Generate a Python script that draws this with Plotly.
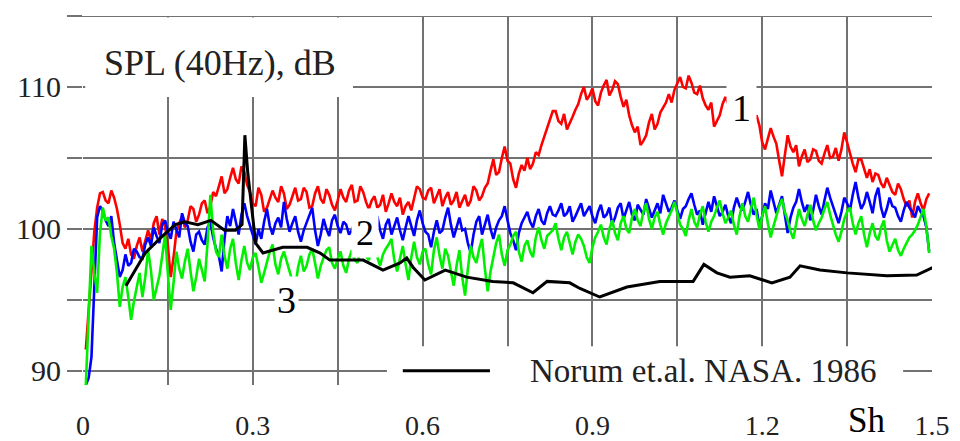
import plotly.graph_objects as go

# ---------------- data ----------------
# noisy series sampled every 0.005 Sh starting at Sh = 0.005
sh_start = 0.005
sh_step = 0.005

spl_1_red = [
    91.5, 94.5, 97.0, 99.8, 101.5, 102.5, 102.6, 102.0, 101.8, 102.7,
    102.2, 101.4, 100.3, 99.0, 98.6, 99.3, 98.2, 97.9, 98.8, 99.4,
    98.4, 99.1, 99.9, 99.2, 100.4, 100.9, 99.6, 100.7, 100.2, 98.8,
    96.6, 98.0, 99.8, 100.4, 100.9, 100.1, 100.6, 101.6, 101.4, 100.5,
    101.0, 101.8, 102.0, 101.1, 101.6, 102.6, 102.3, 103.0, 103.7, 102.5,
    102.8, 103.6, 104.3, 103.5, 103.2, 104.4, 104.0, 103.1, 102.6, 101.8,
    101.6, 102.9, 102.4, 101.2, 101.5, 102.1, 102.7, 102.2, 101.9, 103.0,
    102.5, 101.4, 101.7, 102.3, 102.9, 102.0, 102.1, 102.9, 102.6, 101.5,
    101.6, 102.5, 103.0, 102.1, 101.8, 102.8, 102.4, 101.7, 101.3, 102.0,
    102.8, 102.2, 101.9, 102.7, 103.1, 101.9, 102.0, 103.0, 102.6, 101.9,
    101.4, 102.0, 102.3, 101.5, 101.7, 102.4, 101.2, 101.8, 102.5, 101.9,
    101.6, 102.2, 101.0, 101.6, 101.9, 101.3, 102.2, 103.0, 102.8, 102.2,
    102.1, 102.7, 102.9, 101.8, 102.3, 102.8, 101.6, 102.2, 102.6, 101.7,
    102.0, 102.6, 101.5, 102.0, 102.4, 101.6, 102.0, 103.0, 102.7, 102.0,
    102.3, 102.9, 103.2, 104.1, 104.9, 103.8, 104.0, 105.0, 105.8, 104.8,
    104.6, 103.5, 102.9, 103.9, 104.5, 104.1, 105.0, 104.2, 104.6, 105.4,
    105.2, 105.9, 106.5, 107.1, 107.6, 108.3, 108.3, 107.6, 107.4, 108.1,
    107.0, 107.4, 107.9, 108.4, 108.8, 109.5, 110.0, 109.1, 109.4, 109.9,
    109.0, 108.7, 109.6, 110.1, 110.5, 109.4, 109.8, 110.4, 110.2, 109.3,
    108.6, 109.1, 108.0, 107.3, 106.8, 107.2, 105.9, 106.2, 106.6, 107.5,
    108.1, 107.0, 107.4, 108.2, 108.6, 108.9, 109.5, 108.9, 109.8, 110.3,
    110.7, 110.0, 109.9, 110.8, 110.3, 109.6, 109.5, 110.1, 109.2, 108.7,
    108.4, 108.9, 107.2, 107.6, 108.0, 108.8, 109.3, 108.8, 109.8, 109.4,
    110.2, 109.6, 109.0, 108.5, 108.2, 108.7, 107.6, 108.0, 107.3, 106.1,
    105.6, 106.4, 107.1, 106.5, 106.0, 104.8, 103.7, 105.2, 106.6, 105.8,
    105.4, 105.9, 104.4, 105.1, 105.6, 104.7, 104.9, 105.6, 105.5, 104.8,
    104.6, 105.3, 105.9, 105.0, 105.1, 105.7, 104.8, 105.6, 106.8, 106.1,
    105.3, 104.6, 104.0, 104.9, 104.9, 104.2, 103.6, 104.2, 103.3, 103.9,
    103.8, 103.2, 102.9, 103.6, 103.1, 102.6, 102.4, 103.2, 102.8, 102.1,
    101.6, 102.0, 100.8, 101.9, 102.5, 101.8, 101.3, 102.1, 102.5,
]

spl_2_blue = [
    89.0, 89.5, 91.0, 96.5, 100.8, 101.6, 101.3, 100.6, 100.2, 100.9,
    99.0, 97.8, 96.6, 97.1, 98.2, 97.4, 97.6, 98.6, 98.4, 98.0,
    97.9, 98.9, 99.4, 98.8, 100.1, 99.5, 99.0, 100.3, 100.6, 99.8,
    99.3, 100.5, 99.9, 99.4, 101.1, 100.4, 100.2, 99.1, 98.4, 99.6,
    99.8, 99.2, 98.9, 100.1, 100.5, 99.4, 98.6, 98.1, 97.0, 99.3,
    100.9, 100.2, 101.4, 100.6, 99.6, 101.0, 101.8, 100.9, 100.2, 99.5,
    98.9, 100.0, 99.3, 100.5, 101.4, 100.2, 99.6, 100.4, 100.8, 100.1,
    101.9, 100.7, 99.8, 100.4, 100.9, 99.8, 99.1, 99.9, 100.4, 101.0,
    101.5, 99.9, 98.8, 99.6, 100.7, 100.0, 99.5, 100.6, 101.0, 100.2,
    99.7, 100.5, 100.3, 99.6, 99.9, 100.5, 100.1, 99.7, 100.2, 100.7,
    99.8, 99.4, 100.4, 100.9, 99.9, 99.3, 100.3, 100.7, 99.6, 100.2,
    100.8, 99.9, 99.2, 100.1, 100.9, 100.2, 99.5, 100.6, 101.3, 100.4,
    99.8, 99.6, 98.7, 99.8, 100.6, 99.7, 99.9, 100.8, 101.5, 100.3,
    99.4, 100.1, 100.8, 99.9, 100.0, 99.0, 98.3, 99.6, 100.5, 100.9,
    99.6, 100.3, 101.0, 100.0, 99.3, 100.1, 100.6, 100.9, 101.6, 100.6,
    99.7, 99.2, 98.5, 99.7, 100.4, 100.8, 101.2, 100.5, 100.1, 100.9,
    101.4, 100.6, 100.3, 101.1, 101.6, 101.0, 100.9, 101.3, 101.8, 100.9,
    101.1, 101.6, 100.5, 100.9, 101.4, 101.8, 100.9, 101.3, 101.6, 100.9,
    100.4, 101.2, 101.7, 100.8, 101.0, 101.5, 100.3, 100.8, 101.5, 101.8,
    100.7, 101.3, 101.9, 101.0, 100.6, 101.7, 101.3, 101.0, 102.1, 101.4,
    100.8, 101.3, 101.8, 101.1, 102.4, 101.8, 101.2, 101.5, 102.0, 101.3,
    100.7, 101.4, 101.6, 102.1, 102.5, 101.7, 101.0, 101.3, 100.3, 101.1,
    101.9, 101.2, 102.3, 101.6, 100.9, 101.2, 101.7, 100.9, 100.4, 101.5,
    102.2, 101.6, 101.3, 101.9, 102.6, 101.7, 101.0, 101.4, 100.2, 100.9,
    101.8, 101.4, 102.7, 101.9, 101.1, 101.7, 102.3, 101.0, 99.7, 100.8,
    101.5, 101.9, 102.8, 101.9, 101.2, 101.7, 100.6, 101.3, 102.4, 101.6,
    101.0, 102.0, 102.9, 102.2, 101.6, 101.0, 100.4, 101.2, 102.2, 101.8,
    101.3, 102.4, 103.3, 102.2, 101.4, 101.8, 102.6, 101.9, 101.1, 102.3,
    102.9, 101.5, 100.8, 101.4, 102.2, 101.6, 101.5, 100.9, 100.5, 101.3,
    101.9, 101.5, 101.2, 100.8, 101.6, 101.2, 100.9, 100.1, 98.4,
]

spl_3_green = [
    89.0, 93.5, 98.8, 96.9, 95.5, 99.7, 101.5, 100.6, 100.8, 99.5,
    98.6, 96.9, 94.5, 95.9, 96.6, 95.2, 93.6, 94.9, 95.8, 96.9,
    95.2, 96.6, 98.5, 97.1, 95.0, 95.8, 96.7, 98.1, 99.6, 96.8,
    94.3, 96.2, 98.4, 97.2, 96.5, 97.7, 98.6, 97.0, 95.6, 96.6,
    97.9, 97.1, 96.3, 99.0, 102.4, 99.8, 98.4, 98.0, 99.6, 98.1,
    97.2, 98.6, 99.3, 97.6, 96.4, 97.8, 98.8, 97.6, 97.1, 98.0,
    98.3, 97.3, 96.2, 96.9, 97.6, 98.4, 98.9, 97.5, 96.8, 97.9,
    98.4, 97.6, 97.0, 96.3, 95.9, 97.3, 98.1, 97.0, 97.4, 98.2,
    98.6, 97.6, 96.5, 97.4, 97.9, 98.5, 98.7, 97.6, 97.2, 97.9,
    98.4, 97.4, 96.9, 97.9, 98.5, 97.8, 97.6, 98.5, 98.9, 98.1,
    97.8, 98.7, 99.0, 98.0, 97.4, 98.2, 98.6, 98.9, 99.3, 97.8,
    97.0, 97.9, 98.8, 97.5, 96.4, 98.0, 99.1, 98.0, 97.5, 98.4,
    98.6, 97.5, 96.8, 98.5, 99.4, 98.1, 97.2, 98.6, 98.1, 97.0,
    96.0, 97.4, 98.5, 96.6, 95.3, 97.2, 98.8, 98.0, 97.6, 98.6,
    99.3, 97.2, 95.6, 97.0, 98.1, 99.0, 99.6, 98.2, 97.4, 98.5,
    98.9, 99.5, 99.8, 98.4, 97.7, 98.8, 99.2, 98.4, 98.0, 99.4,
    100.1, 99.2, 98.6, 99.5, 99.7, 99.9, 100.4, 99.3, 98.5, 99.4,
    99.8, 98.9, 98.2, 99.1, 99.6, 99.3, 98.8, 98.0, 97.6, 98.7,
    99.4, 99.8, 100.3, 99.4, 98.9, 100.0, 100.6, 99.7, 99.2, 100.4,
    100.9, 100.0, 99.7, 100.8, 101.4, 100.6, 100.2, 101.2, 101.8, 100.7,
    100.0, 100.8, 101.2, 100.3, 99.6, 100.4, 100.8, 101.3, 101.9, 101.0,
    100.3, 100.0, 99.5, 100.6, 101.4, 100.5, 100.1, 101.0, 101.6, 100.5,
    99.8, 100.5, 100.9, 101.5, 102.0, 101.1, 100.4, 100.8, 101.3, 100.3,
    99.6, 100.9, 101.8, 100.9, 100.5, 101.4, 102.2, 101.0, 100.0, 100.9,
    101.6, 100.4, 99.4, 100.2, 100.9, 101.6, 102.1, 101.2, 100.6, 99.8,
    99.3, 100.5, 101.4, 100.7, 100.2, 101.0, 101.7, 100.6, 99.9, 100.4,
    100.8, 101.4, 101.9, 101.0, 100.3, 99.6, 99.1, 99.8, 100.7, 101.2,
    101.5, 100.4, 99.6, 100.4, 100.9, 99.6, 98.7, 99.7, 100.4, 99.5,
    99.2, 100.1, 100.6, 99.2, 98.4, 98.9, 99.3, 98.5, 98.1, 98.6,
    99.0, 99.4, 99.6, 99.9, 100.3, 100.9, 101.4, 100.2, 98.3,
]

norum_sh = [
    0.076, 0.110, 0.138, 0.163, 0.180, 0.203, 0.226, 0.250, 0.269, 0.281,
    0.286, 0.291, 0.305, 0.318, 0.353, 0.396, 0.419, 0.436, 0.495, 0.530,
    0.560, 0.572, 0.583, 0.604, 0.640, 0.678, 0.724, 0.760, 0.795, 0.820,
    0.860, 0.878, 0.913, 0.961, 1.019, 1.078, 1.097, 1.120, 1.143, 1.178,
    1.217, 1.249, 1.267, 1.302, 1.350, 1.420, 1.473, 1.500, 1.523,
]
norum_spl = [
    96.0, 98.3, 99.4, 100.3, 100.5, 100.3, 100.6, 99.9, 99.9, 100.3,
    106.6, 104.0, 99.0, 98.3, 98.7, 98.7, 98.3, 97.8, 97.8, 97.1,
    97.6, 97.95, 97.3, 96.4, 97.1, 96.6, 96.3, 96.2, 95.5, 96.3,
    96.2, 95.8, 95.2, 95.9, 96.3, 96.3, 97.5, 96.9, 96.6, 96.7,
    96.2, 96.6, 97.4, 97.1, 96.9, 96.7, 96.75, 97.25, 96.5,
]

x_tickvals = [0, 0.15, 0.3, 0.45, 0.6, 0.75, 0.9, 1.05, 1.2, 1.35, 1.5]
x_ticktext = ["0", "", "0.3", "", "0.6", "", "0.9", "", "1.2", "", "1.5"]
y_tickvals = [90, 95, 100, 105, 110, 115]
y_ticktext = ["90", "", "100", "", "110", ""]

# ---------------- figure ----------------
SERIF = "Liberation Serif, Times New Roman, serif"
GRID = "#727272"

fig = go.Figure()
fig.add_trace(go.Scatter(x0=sh_start, dx=sh_step, y=spl_1_red, mode="lines",
                         line=dict(color="#ff0000", width=2.6), showlegend=False))
fig.add_trace(go.Scatter(x0=sh_start, dx=sh_step, y=spl_2_blue, mode="lines",
                         line=dict(color="#0000ff", width=2.6), showlegend=False))
fig.add_trace(go.Scatter(x0=sh_start, dx=sh_step, y=spl_3_green, mode="lines",
                         line=dict(color="#00f000", width=2.6), showlegend=False))
fig.add_trace(go.Scatter(x=norum_sh, y=norum_spl, mode="lines",
                         line=dict(color="#000000", width=3), showlegend=False))

# white boxes that interrupt the grid (label box and legend box)
fig.add_shape(type="rect", xref="x", yref="y", x0=0.004, x1=0.477, y0=109.3, y1=114.9,
              fillcolor="white", line=dict(width=0), layer="between")
fig.add_shape(type="rect", xref="x", yref="y", x0=0.537, x1=1.449, y0=88.9, y1=91.73,
              fillcolor="white", line=dict(width=0), layer="between")
# top frame line
fig.add_shape(type="line", xref="paper", yref="y", x0=-0.0177, x1=1.0, y0=115, y1=115,
              line=dict(color=GRID, width=2), layer="between")
# legend key line
fig.add_shape(type="line", xref="x", yref="y", x0=0.565, x1=0.719, y0=90, y1=90,
              line=dict(color="black", width=3), layer="above")

fig.add_annotation(x=1.095, y=90, xref="x", yref="y", text="Norum et.al. NASA. 1986",
                   showarrow=False, font=dict(family=SERIF, size=33, color="#222"),
                   xanchor="center", yanchor="middle")
fig.add_annotation(x=0.242, y=111.7, xref="x", yref="y", text="SPL (40Hz), dB",
                   showarrow=False, font=dict(family=SERIF, size=36, color="#222"),
                   xanchor="center", yanchor="middle")
fig.add_annotation(x=1.164, y=108.5, xref="x", yref="y", text="1", showarrow=False,
                   font=dict(family=SERIF, size=38, color="black"), bgcolor="white",
                   borderpad=5)
fig.add_annotation(x=0.498, y=99.7, xref="x", yref="y", text="2", showarrow=False,
                   font=dict(family=SERIF, size=36, color="black"), bgcolor="white",
                   borderpad=4)
fig.add_annotation(x=0.360, y=95.0, xref="x", yref="y", text="3", showarrow=False,
                   font=dict(family=SERIF, size=38, color="black"), bgcolor="white",
                   borderpad=2)
fig.add_annotation(x=1.385, y=-0.097, xref="x", yref="paper", text="Sh", showarrow=False,
                   font=dict(family=SERIF, size=35, color="black"),
                   xanchor="center", yanchor="middle")

fig.update_layout(
    width=960, height=441,
    margin=dict(l=83, r=28, t=16, b=56),
    paper_bgcolor="white", plot_bgcolor="white",
    showlegend=False,
    xaxis=dict(range=[0, 1.5], tickvals=x_tickvals, ticktext=x_ticktext,
               showgrid=True, gridcolor=GRID, gridwidth=2, zeroline=False,
               showline=False, ticks="", ticklabelstandoff=21, automargin=False,
               tickfont=dict(family=SERIF, size=28, color="#222")),
    yaxis=dict(range=[89, 115], tickvals=y_tickvals, ticktext=y_ticktext,
               showgrid=True, gridcolor=GRID, gridwidth=2, zeroline=False,
               showline=False, ticks="outside", ticklen=15, tickwidth=2,
               tickcolor=GRID, automargin=False,
               tickfont=dict(family=SERIF, size=30, color="#222")),
)

fig.write_html("out.html", config={"displayModeBar": False},
               post_script="document.body.style.margin='0';"
                           "document.body.style.overflow='hidden';")
